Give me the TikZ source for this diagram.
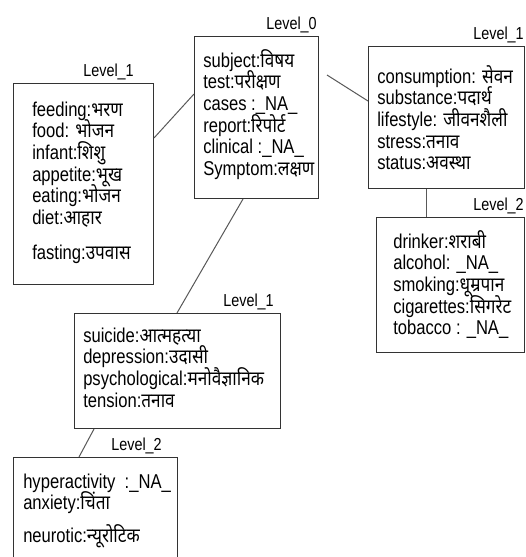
\documentclass[tikz,border=0pt]{standalone}
\usepackage{fontspec}
\setmainfont{Liberation Sans}[FakeStretch=0.83]
\newfontfamily\hin[Script=Devanagari,FakeStretch=0.86]{Noto Sans}
\newcommand{\dev}[1]{{\hin #1}}
\newcommand{\termlist}[1]{\parbox[t]{8cm}{\lineskiplimit=-\maxdimen\raggedright #1}}
\usetikzlibrary{calc}

\begin{document}
\begin{tikzpicture}[x=0.75pt, y=-0.75pt,
	termbox/.style 2 args={draw=black!80, line width=0.75pt, anchor=north west, inner sep=0pt,
		minimum width=#1*0.75pt, minimum height=#2*0.75pt},
	terms/.style={anchor=base west, inner sep=0pt, font=\fontsize{15}{16.3}\selectfont},
	levelname/.style={anchor=base east, inner sep=0pt, font=\fontsize{13}{15}\selectfont},
	link/.style={draw=black!65, line width=0.75pt}]
	\useasboundingbox[fill=white] (0,0) rectangle (525,557);
	\clip (0,0) rectangle (525,557);
	% We start by placing the boxes
	\node [termbox={124}{162}] (root) at (194,36) {};
	\node [termbox={140}{201}] (diet) at (13,83) {};
	\node [termbox={156}{142}] (habit) at (368,46) {};
	\node [termbox={148}{135}] (drink) at (376,217) {};
	\node [termbox={206}{115}] (mind) at (74,313) {};
	\node [termbox={164}{120}] (nerve) at (13,457) {};
	% level names above the boxes
	\node [levelname] (rootlevel) at ($(root.north east)+(-2,-7)$) {Level\_0};
	\node [levelname] (dietlevel) at ($(diet.north east)+(-20,-7)$) {Level\_1};
	\node [levelname] (habitlevel) at ($(habit.north east)+(-1,-7)$) {Level\_1};
	\node [levelname] (drinklevel) at ($(drink.north east)+(-1,-7)$) {Level\_2};
	\node [levelname] (mindlevel) at ($(mind.north east)+(-7,-7)$) {Level\_1};
	\node [levelname] (nervelevel) at ($(nerve.north east)+(-16,-7)$) {Level\_2};
	% the terms inside
	\node [terms] (rootterms) at ($(root.north west)+(9,31)$) {\termlist{subject:\dev{विषय}\\
		test:\dev{परीक्षण}\\ cases :\_NA\_\\ report:\dev{रिपोर्ट}\\ clinical :\_NA\_\\ Symptom:\dev{लक्षण}}};
	\node [terms] (dietterms) at ($(diet.north west)+(19,33)$) {\termlist{feeding:\dev{भरण}\\
		food: \dev{भोजन}\\ infant:\dev{शिशु}\\ appetite:\dev{भूख}\\ eating:\dev{भोजन}\\ diet:\dev{आहार}\\[10pt]
		fasting:\dev{उपवास}}};
	\node [terms] (habitterms) at ($(habit.north west)+(9,37)$) {\termlist{consumption: \dev{सेवन}\\
		substance:\dev{पदार्थ}\\ lifestyle: \dev{जीवनशैली}\\ stress:\dev{तनाव}\\ status:\dev{अवस्था}}};
	\node [terms] (drinkterms) at ($(drink.north west)+(17,31)$) {\termlist{drinker:\dev{शराबी}\\
		alcohol: \_NA\_\\ smoking:\dev{धूम्रपान}\\ cigarettes:\dev{सिगरेट}\\ tobacco : \_NA\_}};
	\node [terms] (mindterms) at ($(mind.north west)+(9,29)$) {\termlist{suicide:\dev{आत्महत्या}\\
		depression:\dev{उदासी}\\ psychological:\dev{मनोवैज्ञानिक}\\ tension:\dev{तनाव}}};
	\node [terms] (nerveterms) at ($(nerve.north west)+(10,31)$) {\termlist{hyperactivity\ \ :\_NA\_\\
		anxiety:\dev{चिंता}\\[8pt] neurotic:\dev{न्यूरोटिक}}};
	% Once the boxes are placed, connecting them is easy.
	\draw [link] ($(diet.north east)+(0,55)$) -- ($(root.north west)+(0,58)$);
	\draw [link] ($(root.north east)+(8,39)$) -- ($(habit.north west)+(0,55)$);
	\draw [link] ($(root.south west)+(49,0)$) -- ($(mind.north west)+(103,0)$);
	\draw [link] ($(habit.south west)+(58,0)$) -- ($(drink.north west)+(50,0)$);
	\draw [link] ($(mind.south west)+(20,0)$) -- ($(nerve.north west)+(66,0)$);
\end{tikzpicture}
\end{document}
